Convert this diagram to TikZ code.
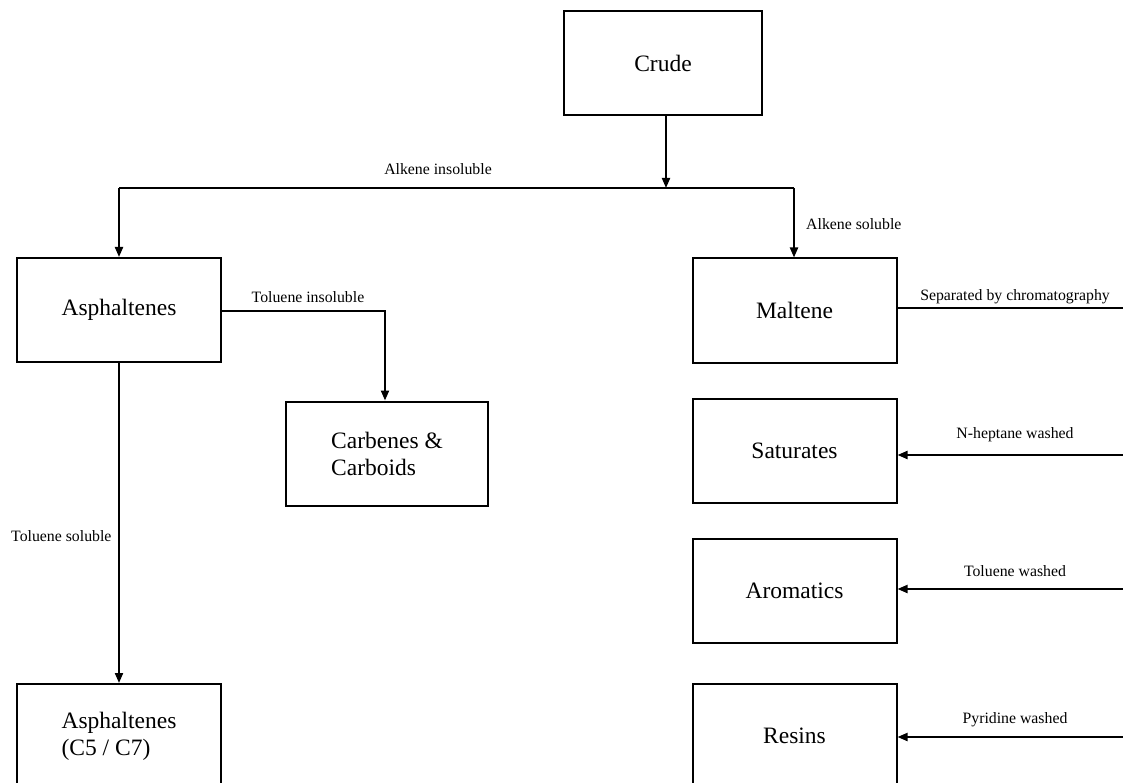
\documentclass[tikz,border=0pt]{standalone}
\usepackage{fontspec}
\setmainfont{Liberation Serif}
\usetikzlibrary{arrows.meta}
\begin{document}
\begin{tikzpicture}[x=1pt,y=-1pt,
  box/.style={draw,line width=2pt,minimum width=204pt,minimum height=104pt,inner sep=0pt,font=\fontsize{23.5}{27}\selectfont,align=left},
  lbl/.style={font=\fontsize{15.8}{18}\selectfont,inner sep=0pt},
  conn/.style={line width=2pt,-{Triangle[length=10pt,width=8pt]}},
  plain/.style={line width=2pt}]
\useasboundingbox (0,0) rectangle (1123,783);
\node[box,minimum width=198pt] (crude) at (663,63) {Crude};
\node[box] (asph) at (119,310) {Asphaltenes};
\node[box,minimum width=202pt] (carb) at (387,453.5) {Carbenes \&\\Carboids};
\node[box] (asph2) at (119,736) {Asphaltenes\\(C5 / C7)};
\node[box] (malt) at (794.5,310.5) {Maltene};
\node[box] (sat) at (794.5,451) {Saturates};
\node[box] (aro) at (794.5,591) {Aromatics};
\node[box] (res) at (794.5,736) {Resins};
\coordinate (split) at (666,188);
\coordinate (lft) at (119,188);
\coordinate (rgt) at (794,188);
\coordinate (mout) at (1123,308);
\coordinate (sin) at (1123,455);
\coordinate (ain) at (1123,589);
\coordinate (rin) at (1123,737);
\draw[conn] (crude.south -| split) -- (split);
\draw[plain] (lft) -- (rgt);
\draw[conn] (lft) -- (asph.north);
\draw[conn] (rgt) -- (malt.north -| rgt);
\draw[conn] (asph.east |- 0,311) -| (carb.north -| 385,0);
\draw[conn] (asph.south) -- (asph2.north);
\draw[plain] (malt.east |- mout) -- (mout);
\draw[conn] (sin) -- (sat.east |- sin);
\draw[conn] (ain) -- (aro.east |- ain);
\draw[conn] (rin) -- (res.east |- rin);
\node[lbl] (l1) at (438,169) {Alkene insoluble};
\node[lbl,anchor=west] (l2) at (806,224) {Alkene soluble};
\node[lbl] (l3) at (308,297) {Toluene insoluble};
\node[lbl,anchor=west] (l4) at (11,536) {Toluene soluble};
\node[lbl] (l5) at (1015,297) {Separated by chromatography};
\node[lbl] (l6) at (1015,435) {N-heptane washed};
\node[lbl] (l7) at (1015,571) {Toluene washed};
\node[lbl] (l8) at (1015,720) {Pyridine washed};
\end{tikzpicture}
\end{document}
